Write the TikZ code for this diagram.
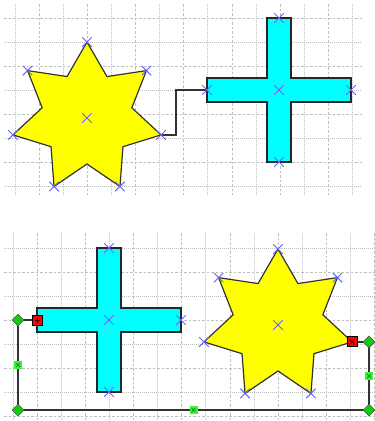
\documentclass[tikz,border=0pt]{standalone}
\usetikzlibrary{shapes.geometric,shapes.misc,calc}

\definecolor{staryellow}{RGB}{255,255,0}
\definecolor{crossaqua}{RGB}{0,255,255}
\definecolor{handlegreen}{RGB}{20,200,20}
\definecolor{midgreen}{RGB}{60,240,60}
\definecolor{ptblue}{RGB}{100,100,255}

\tikzset{
  gridmaj/.style={gray!50, line width=0.7pt, dash pattern=on 2.5pt off 2pt},
  gridmin/.style={gray!50, line width=0.7pt, dash pattern=on 1pt off 1pt},
  starfill/.style={fill=staryellow, draw=black!80, line width=1.2pt},
  crossfill/.style={fill=crossaqua, draw=black!85, line width=1.2pt},
  link/.style={draw=black!80, line width=1.3pt},
  pt/.style={cross out, draw=ptblue, minimum size=8.5pt, inner sep=0pt, line width=1pt},
  endmark/.style={rectangle, draw=black, fill=red, minimum size=10pt, inner sep=0pt, line width=0.9pt},
  bendmark/.style={diamond, draw=black!70, fill=handlegreen, minimum size=12pt, inner sep=0pt, line width=0.5pt},
  midmark/.style={rectangle, fill=midgreen, minimum size=8pt, inner sep=0pt}
}

% seven-pointed star: name, centre x, centre y
\newcommand{\sevenstar}[3]{
    \coordinate (#1) at (#2,#3);
    \foreach \i in {1,...,7}
        \coordinate (#1-\i) at ($(#1)+(-90-51.4286*\i+51.4286:76)$);
    \draw[starfill] (#1-1)
        \foreach \i [evaluate=\i as \j using int(\i+1)] in {1,...,6} {
            -- ($(#1)+(-90-51.4286*\i+25.7143:46)$) -- (#1-\j)
        } -- ($(#1)+(-90-51.4286*7+25.7143:46)$) -- cycle;
}
% cross: name, centre x, centre y
\newcommand{\plusshape}[3]{
    \begin{scope}[shift={(#2,#3)}]
        \draw[crossfill] (-12,-72) -- (12,-72) -- (12,-12) -- (72,-12) -- (72,12) -- (12,12)
            -- (12,72) -- (-12,72) -- (-12,12) -- (-72,12) -- (-72,-12) -- (-12,-12) -- cycle;
        \coordinate (#1) at (0,0);
        \coordinate (#1-n) at (0,-72);
        \coordinate (#1-s) at (0,72);
        \coordinate (#1-w) at (-72,0);
        \coordinate (#1-e) at (72,0);
    \end{scope}
}

\begin{document}
\begin{tikzpicture}[x=1pt, y=-1pt]
    \useasboundingbox (0,0) rectangle (375,421);

    % grid, upper sheet
    \foreach \k in {0,...,14} {
        \pgfmathsetmacro{\gx}{15+24.1*\k}
        \ifodd\k \draw[gridmaj] (\gx,4) -- (\gx,195); \else \draw[gridmin] (\gx,4) -- (\gx,195); \fi
    }
    \foreach \k in {0,...,7} {
        \pgfmathsetmacro{\gy}{18+24.1*\k}
        \ifodd\k \draw[gridmin] (4,\gy) -- (362,\gy); \else \draw[gridmaj] (4,\gy) -- (362,\gy); \fi
    }
    % grid, lower sheet
    \foreach \k in {0,...,15} {
        \pgfmathsetmacro{\gx}{13+24.1*\k}
        \ifodd\k \draw[gridmaj] (\gx,233) -- (\gx,421); \else \draw[gridmin] (\gx,233) -- (\gx,421); \fi
    }
    \foreach \k in {0,...,7} {
        \pgfmathsetmacro{\gy}{248+24.1*\k}
        \ifodd\k \draw[gridmaj] (4,\gy) -- (375,\gy); \else \draw[gridmin] (4,\gy) -- (375,\gy); \fi
    }

    % upper sheet
    \sevenstar{stara}{87}{118}
    \plusshape{crossa}{279}{90}

    \draw[link] (stara-6) -- ++(15,0) |- (crossa-w);

    \foreach \a in {stara, stara-1, stara-2, stara-3, stara-4, stara-5, stara-6, stara-7,
                    crossa, crossa-n, crossa-s, crossa-w, crossa-e}
        \node[pt] at (\a) {};

    % lower sheet
    \sevenstar{starb}{278}{325}
    \plusshape{crossb}{109}{320}

    \coordinate (bend1) at (starb-6 -| 369,0);
    \coordinate (bend2) at (369,410);
    \coordinate (bend3) at (18,410);
    \coordinate (bend4) at (crossb-w -| 18,0);

    \draw[link] (starb-6) -- (bend1) -- (bend2) -- (bend3) -- (bend4) -- (crossb-w);

    \foreach \a in {starb, starb-1, starb-2, starb-3, starb-4, starb-5, starb-7,
                    crossb, crossb-n, crossb-s, crossb-e}
        \node[pt] at (\a) {};

    % selection handles
    \foreach \b in {bend1, bend2, bend3, bend4}
        \node[bendmark] at (\b) {};
    \foreach \p/\q in {bend1/bend2, bend2/bend3, bend3/bend4} {
        \node[midmark] (m-\p) at ($(\p)!0.5!(\q)$) {};
        \draw[green!45!black, line width=0.5pt] (m-\p.center) ++(-2,-2) -- ++(4,4) ++(-4,0) -- ++(4,-4);
    }
    \node[endmark] (enda) at (crossb-w) {};
    \draw[black, line width=0.6pt] (enda.center) ++(-2.5,0) -- ++(5,0) ++(-2.5,-2.5) -- ++(0,5);
    \node[endmark] (endb) at (starb-6) {};
    \draw[black, line width=0.6pt] (endb.center) ++(-2.5,-2.5) -- ++(5,5) ++(-5,0) -- ++(5,-5);
\end{tikzpicture}
\end{document}
